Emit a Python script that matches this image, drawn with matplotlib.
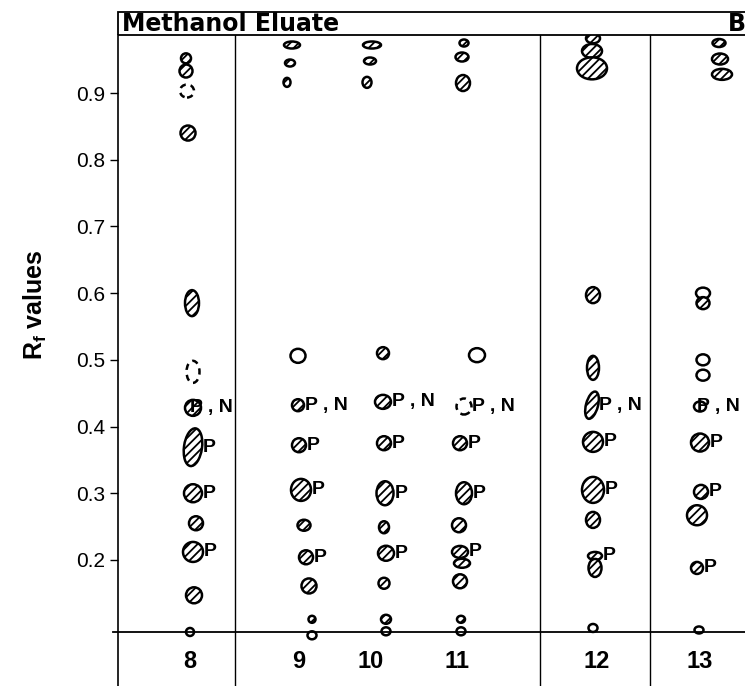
"""
Methanol eluate TLC plate, panel B: Rf values of the spots per fraction.
Spots: hatched = strong, open = faint, dashed = trace.
"""

import matplotlib.pyplot as plt
from matplotlib.patches import Ellipse, Rectangle
from matplotlib.transforms import Affine2D

plt.rcParams['font.family'] = ['Liberation Sans', 'DejaVu Sans']
plt.rcParams['mathtext.default'] = 'regular'
plt.rcParams['hatch.linewidth'] = 1.3

# --- Data ---
lanes = ['8', '9', '10', '11', '12', '13']
lane_x = [190, 299, 371, 457, 597, 700]        # plate position of each lane
rf_ticks = [0.2, 0.3, 0.4, 0.5, 0.6, 0.7, 0.8, 0.9]
rf_origin = 0.092

# one entry per spot: position on plate, Rf, spot size (px), intensity, label
# lane 8
spot_x = [186, 186, 187, 188, 192, 193, 193, 193, 193, 196, 193, 194, 190]
spot_rf = [0.952, 0.933, 0.903, 0.840, 0.585, 0.482, 0.428, 0.369, 0.300,
           0.255, 0.212, 0.147, 0.092]
spot_w = [10, 13, 14, 15, 14, 13, 16, 18, 18, 14, 20, 16, 8]
spot_h = [10, 13, 13, 15, 26, 22, 16, 38, 18, 14, 20, 16, 8]
spot_kind = ['s', 's', 't', 's', 's', 't', 's', 's', 's', 's', 's', 's', 'f']
spot_label = ['', '', '', '', '', '', 'P , N', 'P', 'P', '', 'P', '', '']
# lane 9
spot_x += [292, 290, 287, 298, 298, 299, 301, 304, 306, 309, 312, 312]
spot_rf += [0.972, 0.945, 0.916, 0.506, 0.432, 0.372, 0.305, 0.252, 0.204,
            0.161, 0.111, 0.087]
spot_w += [16, 10, 7, 15, 12, 14, 20, 13, 14, 15, 7, 9]
spot_h += [7, 7, 9, 14, 12, 14, 22, 11, 14, 15, 7, 8]
spot_kind += ['s', 's', 's', 'f', 's', 's', 's', 's', 's', 's', 's', 'f']
spot_label += ['', '', '', '', 'P , N', 'P', 'P', '', 'P', '', '', '']
# lane 10
spot_x += [372, 370, 367, 383, 383, 384, 385, 384, 386, 384, 386, 386]
spot_rf += [0.972, 0.948, 0.916, 0.510, 0.437, 0.375, 0.300, 0.249, 0.210,
            0.165, 0.111, 0.093]
spot_w += [18, 12, 9, 12, 16, 14, 17, 10, 16, 11, 10, 9]
spot_h += [7, 7, 11, 12, 14, 14, 24, 12, 15, 11, 9, 8]
spot_kind += ['s', 's', 's', 's', 's', 's', 's', 's', 's', 's', 's', 'f']
spot_label += ['', '', '', '', 'P , N', 'P', 'P', '', 'P', '', '', '']
# lane 11
spot_x += [464, 462, 463, 477, 464, 460, 464, 459, 460, 462, 460, 461, 461]
spot_rf += [0.975, 0.954, 0.915, 0.507, 0.430, 0.375, 0.300, 0.252, 0.212,
            0.195, 0.168, 0.111, 0.093]
spot_w += [9, 13, 14, 16, 15, 14, 16, 14, 16, 16, 14, 8, 9]
spot_h += [7, 9, 16, 14, 16, 14, 22, 14, 12, 9, 14, 7, 8]
spot_kind += ['s', 's', 's', 'f', 't', 's', 's', 's', 's', 's', 's', 's',
              'f']
spot_label += ['', '', '', '', 'P , N', 'P', 'P', '', 'P', '', '', '', '']
# lane 12
spot_x += [593, 592, 592, 593, 593, 592, 593, 593, 593, 595, 595, 593]
spot_rf += [0.982, 0.963, 0.937, 0.597, 0.488, 0.432, 0.377, 0.305, 0.260,
            0.206, 0.188, 0.098]
spot_w += [14, 20, 30, 14, 12, 12, 20, 22, 14, 14, 13, 9]
spot_h += [10, 14, 22, 16, 24, 28, 20, 26, 16, 8, 18, 8]
spot_kind += ['s', 's', 's', 's', 's', 's', 's', 's', 's', 's', 's', 'f']
spot_label += ['', '', '', '', '', 'P , N', 'P', 'P', '', 'P', '', '']
# lane 13
spot_x += [719, 720, 722, 703, 703, 703, 703, 700, 700, 701, 697, 697, 699]
spot_rf += [0.975, 0.951, 0.928, 0.600, 0.585, 0.500, 0.477, 0.430, 0.376,
            0.302, 0.267, 0.188, 0.095]
spot_w += [13, 16, 20, 14, 13, 13, 13, 12, 18, 14, 20, 12, 9]
spot_h += [8, 11, 11, 11, 12, 11, 11, 10, 18, 14, 20, 12, 7]
spot_kind += ['s', 's', 's', 'f', 's', 'f', 'f', 'f', 's', 's', 's', 's',
              'f']
spot_label += ['', '', '', '', '', '', '', 'P , N', 'P', 'P', '', 'P', '']

# label drawn over the spot instead of beside it (lane 8 and 13, P,N)
spot_label_in = [i in (6, 69) for i in range(len(spot_x))]
spot_tilt = [0] * len(spot_x)
spot_tilt[7] = -8
spot_tilt[55] = -15

# --- Figure ---
W, H = 745, 686
fig = plt.figure(figsize=(W / 100, H / 100), dpi=100)
ax = fig.add_axes([118 / W, 0, 627 / W, 651 / H])
ax.set_xlim(118, 745)
ax.set_ylim(0.011, 0.987)

for s in ['top', 'right', 'bottom']:
    ax.spines[s].set_visible(False)
ax.spines['left'].set_linewidth(1.2)
ax.set_xticks([])
ax.set_yticks(rf_ticks)
ax.set_yticklabels([f'{v:.1f}' for v in rf_ticks], fontsize=15)
ax.tick_params(axis='y', length=6, width=1.0, pad=3)

# lane dividers and origin line
for xd in [235, 540, 650]:
    ax.axvline(xd, color='black', lw=1.0)
ax.plot([113, 745], [rf_origin, rf_origin], color='black', lw=1.3,
        clip_on=False)

for name, lx in zip(lanes, lane_x):
    ax.text(lx, 0.048, name, ha='center', va='center', fontsize=17,
            fontweight='bold')

# spots, drawn in pixel units around their data position
for i in range(len(spot_x)):
    x, rf, w, h = spot_x[i], spot_rf[i], spot_w[i], spot_h[i]
    kind = spot_kind[i]
    px, py = ax.transData.transform((x, rf))
    e = Ellipse((0, 0), w, h, angle=spot_tilt[i],
                transform=Affine2D().translate(px, py),
                facecolor='white', edgecolor='black', lw=1.8,
                hatch='////' if kind == 's' else None,
                linestyle=(0, (2.5, 2)) if kind == 't' else '-')
    ax.add_patch(e)
    if spot_label[i]:
        lx = x - 3 if spot_label_in[i] else x + w / 2 + 1
        ax.text(lx, rf, spot_label[i], ha='left', va='center',
                fontsize=14, fontweight='bold')

# title box
fig.add_artist(Rectangle((118 / W, 1 - 35 / H), 640 / W, 23 / H,
                         transform=fig.transFigure, fill=False, lw=1.3,
                         color='black'))
fig.text(122 / W, 1 - 24 / H, 'Methanol Eluate', ha='left', va='center',
         fontsize=17, fontweight='bold', family='DejaVu Sans')
fig.text(737 / W, 1 - 24 / H, 'B', ha='center', va='center',
         fontsize=17, fontweight='bold', family='DejaVu Sans')

fig.text(35 / W, 1 - 305 / H, 'R$_f$ values', rotation=90, ha='center',
         va='center', fontsize=18, fontweight='bold')

fig.savefig('out.png', dpi=100)
